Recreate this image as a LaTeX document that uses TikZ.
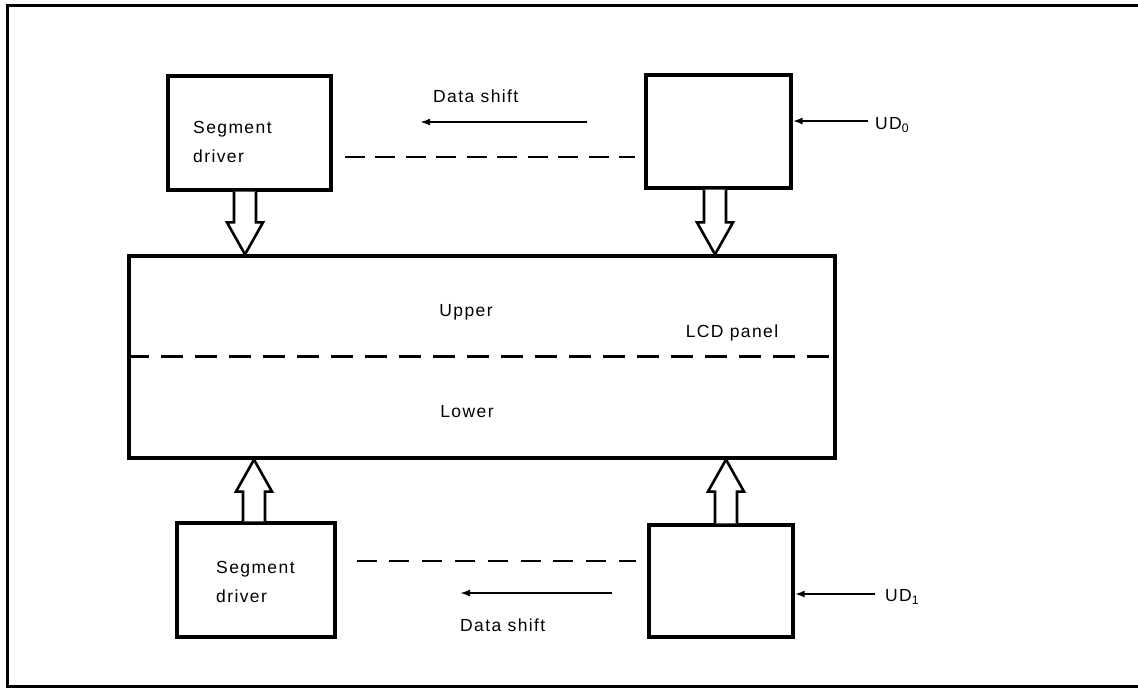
\documentclass[tikz,border=0pt]{standalone}
\usepackage{fontspec}
\setmainfont{Liberation Sans}[LetterSpace=8]
\usetikzlibrary{arrows.meta,calc}
\tikzset{
  blk/.style={draw, line width=3.2pt, rectangle, inner sep=0pt},
  lbl/.style={font=\fontsize{17.5}{29}\selectfont, inner sep=0pt, align=left},
  thinarr/.style={line width=2pt, -{Latex[length=10pt,width=7pt]}},
  dashline/.style={line width=2pt, dash pattern=on 20pt off 11pt},
  paneldash/.style={line width=3pt, dash pattern=on 22pt off 12pt},
  hollowarr/.style={draw, line width=2.6pt, fill=white, line join=miter},
  frame/.style={line width=3pt}
}
\newcommand\hollowarrow[2]{%
  \draw[hollowarr] let \p1=(#1), \p2=(#2) in
    (\x1-11pt,\y1) -- (\x1-11pt,\y2+32pt*\ysgn) -- (\x1-18pt,\y2+32pt*\ysgn) --
    (\x1,\y2) -- (\x1+18pt,\y2+32pt*\ysgn) -- (\x1+11pt,\y2+32pt*\ysgn) -- (\x1+11pt,\y1);}
\begin{document}
\begin{tikzpicture}[x=1pt,y=-1pt]
\useasboundingbox (0,0) rectangle (1138,688);
% frame
\coordinate (f1) at (1140,5);
\coordinate (f2) at (7,5);
\coordinate (f3) at (7,686);
\coordinate (f4) at (1140,686);
\draw[frame] (f1) -- (f2) -- (f3) -- (f4);
% boxes
\node[blk, minimum width=163pt, minimum height=114pt] (tl) at (249.5,133) {};
\node[blk, minimum width=145pt, minimum height=113pt] (tr) at (718.5,131.5) {};
\node[blk, minimum width=706pt, minimum height=202pt] (panel) at (482,357) {};
\node[blk, minimum width=158pt, minimum height=114pt] (bl) at (256,580) {};
\node[blk, minimum width=144pt, minimum height=112pt] (br) at (721,581) {};
% texts
\node[lbl, anchor=west] (tltext) at (193,142) {Segment\\driver};
\node[lbl, anchor=west] (bltext) at (216,582) {Segment\\driver};
\node[lbl, anchor=west] (ds1) at (433,96) {Data shift};
\node[lbl, anchor=west] (ds2) at (460,625) {Data shift};
\node[lbl] (upper) at (466,312) {Upper};
\node[lbl] (lower) at (467,412) {Lower};
\node[lbl] (lcd) at (732,333) {LCD panel};
\node[lbl, anchor=west] (ud0) at (875,125) {UD\textsubscript{0}};
\node[lbl, anchor=west] (ud1) at (885,597) {UD\textsubscript{1}};
% panel divider
\coordinate (pd) at (0,356);
\draw[paneldash] (panel.west |- pd) -- (panel.east |- pd);
% dashed links
\coordinate (d1) at (0,157);
\draw[dashline, dash pattern=on 20pt off 10.5pt, shorten <=12pt, shorten >=9pt] (tl.east |- d1) -- (tr.west |- d1);
\coordinate (d2) at (0,561);
\draw[dashline, dash pattern=on 20pt off 12.8pt, shorten <=20pt, shorten >=11pt] (bl.east |- d2) -- (br.west |- d2);
% data shift arrows
\coordinate (s1a) at (587,122);
\coordinate (s1b) at (420,122);
\draw[thinarr] (s1a) -- (s1b);
\coordinate (s2a) at (612,593);
\coordinate (s2b) at (460,593);
\draw[thinarr] (s2a) -- (s2b);
% UD inputs
\coordinate (u0) at (868,121);
\draw[thinarr] (u0) -- (tr.east |- u0);
\coordinate (u1) at (875,594);
\draw[thinarr] (u1) -- (br.east |- u1);
% hollow arrows
\def\ysgn{1}
\coordinate (h1a) at (tl.south -| 245,0);
\coordinate (h1b) at (panel.north -| 245,0);
\hollowarrow{h1a}{h1b}
\coordinate (h2a) at (tr.south -| 715,0);
\coordinate (h2b) at (panel.north -| 715,0);
\hollowarrow{h2a}{h2b}
\def\ysgn{-1}
\coordinate (h3a) at (bl.north -| 254,0);
\coordinate (h3b) at (panel.south -| 254,0);
\hollowarrow{h3a}{h3b}
\coordinate (h4a) at (br.north -| 726,0);
\coordinate (h4b) at (panel.south -| 726,0);
\hollowarrow{h4a}{h4b}
\end{tikzpicture}
\end{document}
